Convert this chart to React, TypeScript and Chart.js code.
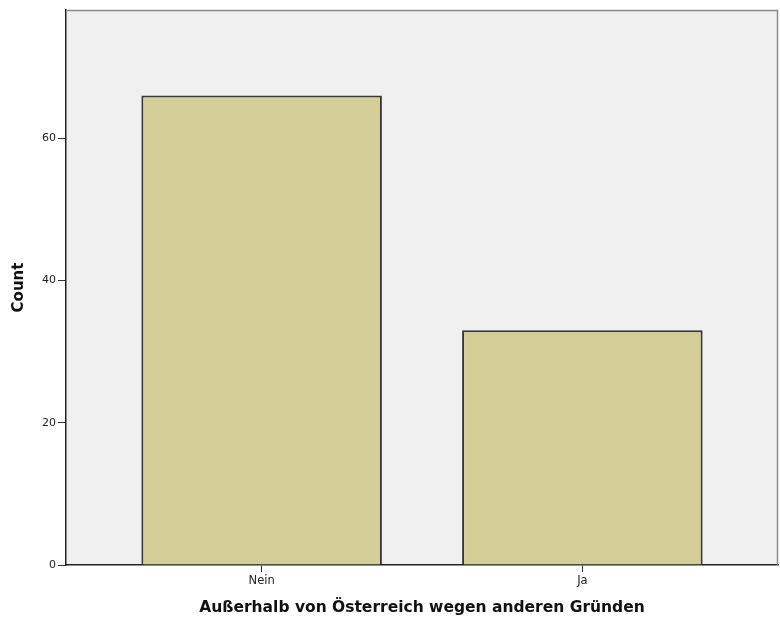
import React, { useEffect, useRef } from "react";
import { Chart, registerables } from "chart.js";

Chart.register(...registerables);

const categories = ["Nein", "Ja"];
const counts = [66, 33];
const yTicks = [0, 20, 40, 60];
const xTitle = "Außerhalb von Österreich wegen anderen Gründen";
const yTitle = "Count";

const FONT = "'DejaVu Sans', Verdana, sans-serif";

const plotBg = {
  id: "plotBg",
  beforeDraw(chart: any) {
    const { ctx, chartArea: a } = chart;
    ctx.save();
    ctx.fillStyle = "#F0F0F0";
    ctx.fillRect(a.left, a.top, a.right - a.left, a.bottom - a.top);
    ctx.restore();
  },
  afterDraw(chart: any) {
    const { ctx, chartArea: a } = chart;
    ctx.save();
    ctx.strokeStyle = "#8a8a8a";
    ctx.lineWidth = 1.5;
    ctx.beginPath();
    ctx.moveTo(a.left, a.top + 0.5);
    ctx.lineTo(a.right - 0.5, a.top + 0.5);
    ctx.lineTo(a.right - 0.5, a.bottom);
    ctx.stroke();
    ctx.restore();
  },
};

export default function App() {
  const ref = useRef<HTMLCanvasElement>(null);
  useEffect(() => {
    const prevMargin = document.body.style.margin;
    document.body.style.margin = "0";
    const chart = new Chart(ref.current!, {
      type: "bar",
      data: {
        datasets: [
          {
            data: categories.map((c, i) => ({ x: i + 1, y: counts[i] })),
            backgroundColor: "#D3CE98",
            borderColor: "#363636",
            borderWidth: 2,
            barPercentage: 0.75,
            categoryPercentage: 1,
          },
        ],
      },
      options: {
        animation: false,
        responsive: false,
        maintainAspectRatio: false,
        layout: { padding: { top: 10, right: 2, left: 0, bottom: 0 } },
        plugins: { legend: { display: false }, tooltip: { enabled: false } },
        scales: {
          x: {
            type: "linear",
            offset: false,
            min: 0.39,
            max: 2.61,
            afterBuildTicks: (s: any) => {
              s.ticks = categories.map((_, i) => ({ value: i + 1 }));
            },
            afterFit: (s: any) => {
              s.height = 66;
            },
            ticks: {
              callback: (v: any) => categories[Number(v) - 1] ?? "",
              font: { family: FONT, size: 11.5 },
              color: "#222",
              padding: 2,
              maxRotation: 0,
            },
            grid: {
              display: true,
              offset: false,
              drawOnChartArea: false,
              drawTicks: true,
              tickLength: 7,
              tickColor: "#333",
            },
            border: { display: true, color: "#222", width: 1.5 },
            title: {
              display: true,
              text: xTitle,
              font: { family: FONT, size: 15.5, weight: "bold" },
              color: "#111",
              padding: { top: 0, bottom: 14 },
            },
          },
          y: {
            type: "linear",
            min: 0,
            max: 78,
            afterBuildTicks: (s: any) => {
              s.ticks = yTicks.map((v) => ({ value: v }));
            },
            afterFit: (s: any) => {
              s.width = 66;
            },
            ticks: {
              font: { family: FONT, size: 11 },
              color: "#222",
              padding: 2,
            },
            grid: {
              display: true,
              drawOnChartArea: false,
              drawTicks: true,
              tickLength: 8,
              tickColor: "#333",
            },
            border: { display: true, color: "#222", width: 1.5 },
            title: {
              display: true,
              text: yTitle,
              font: { family: FONT, size: 15, weight: "bold" },
              color: "#111",
              padding: { top: 10, bottom: 0 },
            },
          },
        },
      },
      plugins: [plotBg],
    } as any);
    return () => {
      chart.destroy();
      document.body.style.margin = prevMargin;
    };
  }, []);
  return (
    <div style={{ width: 780, height: 631, background: "#fff" }}>
      <canvas ref={ref} width={780} height={631} style={{ display: "block" }} />
    </div>
  );
}
